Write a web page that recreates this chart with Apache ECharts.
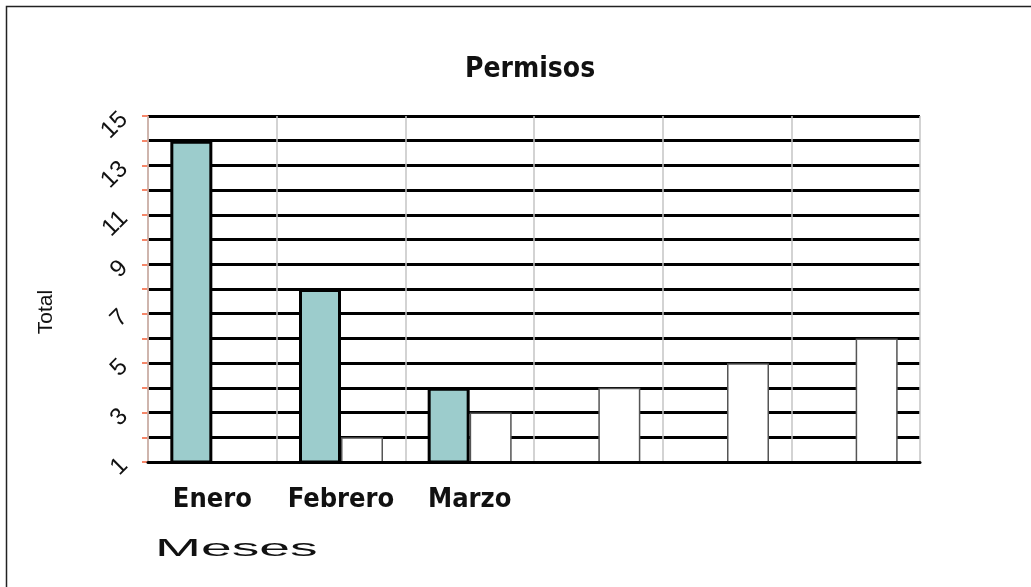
<!DOCTYPE html>
<html>
<head>
<meta charset="utf-8">
<title>Permisos</title>
<script src="https://cdn.jsdelivr.net/npm/echarts@6/dist/echarts.min.js"></script>
<style>
  html, body { margin: 0; padding: 0; background: #fff; }
  #chart { width: 1031px; height: 587px; }
</style>
</head>
<body>
<div id="chart"></div>
<script>
// datos
const meses = ['Enero', 'Febrero', 'Marzo', '', '', '']
const serieA = [14, 8, 4, null, null, null]
const serieB = [1, 2, 3, 4, 5, 6]

const condensed = '"DejaVu Sans Condensed", "Liberation Sans Narrow", "DejaVu Sans", sans-serif'
const arial = '"Liberation Sans", Arial, sans-serif'

const chart = echarts.init(document.getElementById('chart'))

const option = {
  animation: false,
  title: {
    text: 'Permisos',
    left: 460,
    top: 51,
    textStyle: {
      fontFamily: condensed,
      fontWeight: 'bold',
      fontSize: 28,
      color: '#111',
    },
  },
  grid: {
    left: 148,
    right: 111,
    top: 116,
    bottom: 125,
  },
  graphic: [
    {
      type: 'rect',
      shape: { x: 6.5, y: 6.5, width: 1200, height: 800 },
      style: { fill: 'none', stroke: '#222', lineWidth: 1.5 },
      silent: true,
    },
    {
      type: 'text',
      x: 155,
      y: 537,
      scaleX: 2.3,
      style: { text: 'Meses', font: '24px ' + arial, fill: '#111' },
    },
    {
      type: 'text',
      x: 46,
      y: 312,
      rotation: Math.PI / 2,
      style: {
        text: 'Total',
        font: '21px ' + arial,
        fill: '#111',
        align: 'center',
        verticalAlign: 'middle',
      },
    },
  ],
  xAxis: {
    type: 'category',
    data: meses,
    z: 5,
    axisLine: { lineStyle: { color: '#000', width: 3 } },
    axisTick: { interval: 0, length: 9, lineStyle: { color: '#000', width: 3 } },
    splitLine: { show: true, interval: 0, lineStyle: { color: '#c4c4c4', width: 1.5 } },
    axisLabel: {
      interval: 0,
      margin: 24,
      fontFamily: condensed,
      fontWeight: 'bold',
      fontSize: 27,
      color: '#111',
    },
  },
  yAxis: {
    type: 'value',
    min: 1,
    max: 15,
    interval: 1,
    axisLine: { show: true, lineStyle: { color: '#e8603a', width: 1.5 } },
    axisTick: { show: true, length: 6, lineStyle: { color: '#f4603a', width: 1.5 } },
    splitLine: { lineStyle: { color: '#000', width: 3 } },
    axisLabel: {
      rotate: 45,
      margin: 24,
      fontFamily: arial,
      fontSize: 24,
      color: '#111',
      formatter: (v) => (v % 2 === 1 ? v : ''),
    },
  },
  series: [
    {
      type: 'bar',
      data: serieA,
      barWidth: 42,
      barGap: 0,
      itemStyle: { color: '#9ccccc', borderColor: '#000', borderWidth: 3 },
    },
    {
      type: 'bar',
      data: serieB,
      barWidth: 42,
      barGap: 0,
      itemStyle: { color: '#fff', borderColor: '#555', borderWidth: 1.5 },
    },
  ],
}

chart.setOption(option)
</script>
</body>
</html>
